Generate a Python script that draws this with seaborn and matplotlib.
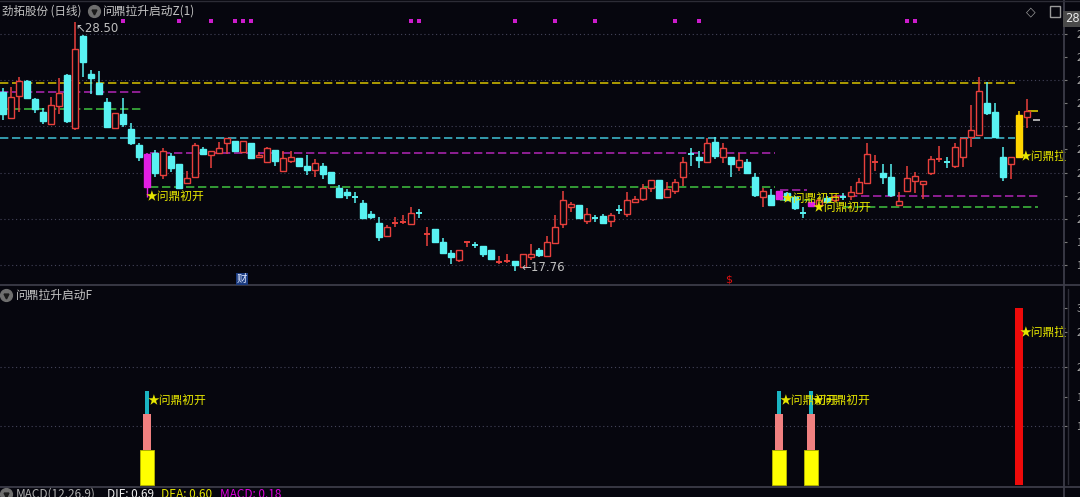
import matplotlib
matplotlib.use("Agg")
import matplotlib.pyplot as plt
import seaborn as sns
import numpy as np
import pandas as pd
from matplotlib.patches import Rectangle
from matplotlib.lines import Line2D

W, H = 1080, 497
BG = "#06060e"

# ---------------- data ----------------
opens = [25.48, 24.38, 25.32, 25.97, 25.19, 24.64, 24.12, 24.90, 26.23, 23.94,
         27.93, 26.26, 25.87, 25.07, 23.94, 24.52, 23.89, 23.20, 22.80, 22.84,
         21.90, 22.73, 22.36, 21.56, 21.82, 23.01, 22.76, 22.84, 23.29, 23.37,
         22.90, 23.27, 22.69, 22.47, 22.98, 22.07, 22.52, 22.62, 22.29, 22.11,
         22.29, 22.01, 21.35, 21.17, 20.95, 20.70, 20.19, 19.83, 19.26, 19.81,
         19.86, 19.77, 20.26, 19.33, 19.55, 18.99, 18.51, 18.22, 18.98, 18.88,
         18.82, 18.65, 18.13, 18.17, 18.19, 17.93, 18.33, 18.65, 18.40, 18.94,
         19.77, 20.50, 20.60, 19.90, 20.04, 20.12, 19.92, 20.39, 20.19, 20.74,
         20.84, 21.32, 21.68, 20.96, 21.20, 21.82, 22.80, 22.69, 22.47, 23.31,
         22.69, 22.66, 22.23, 22.47, 21.82, 20.96, 21.03, 21.20, 21.12, 20.94,
         20.26, 20.74, 20.60, 20.90, 20.81, 20.94, 20.99, 21.10, 21.56, 22.46,
         21.97, 21.80, 20.60, 21.22, 21.65, 21.49, 21.99, 22.57, 22.49, 22.29,
         22.69, 23.55, 23.63, 25.03, 24.64, 22.69, 22.37, 22.66, 24.39]
highs = [25.66, 25.72, 26.15, 26.01, 25.23, 24.81, 25.29, 26.11, 26.27, 28.50,
         27.96, 26.44, 26.40, 25.22, 24.57, 25.22, 24.15, 23.27, 22.86, 22.98,
         23.05, 22.84, 22.36, 22.07, 23.30, 23.12, 22.95, 23.34, 23.48, 23.37,
         23.37, 23.27, 22.90, 23.12, 22.98, 22.95, 22.95, 22.62, 22.76, 22.58,
         22.40, 22.01, 21.46, 21.28, 21.17, 20.81, 20.35, 20.09, 19.72, 20.09,
         20.16, 20.52, 20.41, 19.66, 19.55, 19.16, 18.65, 18.65, 19.00, 19.01,
         18.82, 18.65, 18.39, 18.46, 18.19, 18.46, 18.91, 18.72, 19.26, 20.16,
         21.20, 20.74, 20.60, 20.45, 20.16, 20.21, 20.26, 20.60, 21.17, 20.98,
         21.51, 21.68, 21.68, 21.61, 21.71, 22.69, 23.05, 22.95, 23.48, 23.53,
         23.29, 22.66, 22.84, 22.59, 21.97, 21.32, 21.28, 21.20, 21.17, 21.00,
         20.52, 20.74, 20.90, 20.98, 21.05, 21.13, 21.42, 21.75, 23.27, 22.76,
         22.37, 22.37, 21.17, 22.29, 22.04, 21.65, 22.72, 23.15, 22.69, 23.27,
         23.49, 24.93, 26.15, 25.94, 25.03, 23.10, 22.69, 24.68, 25.17]
lows = [24.28, 24.36, 24.64, 25.19, 24.58, 24.10, 24.10, 24.52, 24.15, 23.84,
        26.14, 25.40, 25.39, 23.99, 23.94, 23.99, 23.20, 22.50, 21.36, 21.82,
        21.71, 22.04, 21.35, 21.56, 21.82, 22.76, 22.21, 22.84, 22.79, 22.95,
        22.84, 22.58, 22.62, 22.40, 22.29, 22.07, 22.40, 22.23, 21.90, 21.82,
        21.71, 21.51, 20.93, 20.84, 20.70, 19.98, 19.98, 19.05, 19.26, 19.63,
        19.77, 19.77, 20.02, 18.82, 18.94, 18.51, 18.04, 18.14, 18.77, 18.72,
        18.33, 18.25, 18.04, 18.10, 17.76, 17.93, 18.22, 18.36, 18.40, 18.94,
        19.59, 20.31, 19.99, 19.77, 19.86, 19.83, 19.63, 20.21, 20.09, 20.67,
        20.77, 21.17, 20.91, 20.89, 21.07, 21.42, 22.29, 22.21, 22.40, 22.58,
        22.43, 21.82, 22.08, 21.97, 20.96, 20.50, 20.55, 20.86, 20.77, 20.40,
        20.02, 20.55, 20.50, 20.68, 20.74, 20.81, 20.81, 21.10, 21.51, 22.08,
        21.51, 20.93, 20.55, 21.17, 21.13, 20.84, 21.90, 22.47, 22.19, 22.19,
        22.26, 23.12, 23.63, 24.49, 23.53, 21.65, 21.71, 22.66, 23.92]
closes = [24.52, 25.29, 25.97, 25.22, 24.75, 24.23, 24.93, 25.46, 24.23, 27.34,
          26.78, 26.08, 25.39, 23.99, 24.57, 24.09, 23.27, 22.69, 21.36, 21.97,
          22.94, 22.19, 21.35, 21.75, 23.20, 22.79, 22.95, 23.08, 23.48, 22.95,
          23.37, 22.62, 22.76, 23.05, 22.50, 22.62, 22.66, 22.29, 22.11, 22.40,
          21.94, 21.54, 20.96, 21.03, 20.93, 20.02, 20.09, 19.20, 19.63, 19.83,
          19.88, 20.26, 20.23, 19.35, 18.99, 18.51, 18.36, 18.65, 19.00, 18.86,
          18.46, 18.25, 18.15, 18.19, 18.00, 18.46, 18.46, 18.43, 18.98, 19.66,
          20.81, 20.64, 20.02, 20.21, 20.02, 19.83, 20.16, 20.37, 20.81, 20.84,
          21.35, 21.68, 20.91, 21.29, 21.61, 22.45, 22.78, 22.54, 23.27, 22.72,
          23.05, 22.36, 22.54, 21.97, 21.03, 21.20, 20.60, 20.86, 20.81, 20.47,
          20.24, 20.55, 20.81, 20.73, 20.98, 20.92, 21.17, 21.61, 22.80, 22.47,
          21.80, 21.03, 20.78, 21.75, 21.87, 21.65, 22.58, 22.59, 22.47, 23.12,
          23.49, 23.84, 25.54, 24.57, 23.53, 21.82, 22.69, 24.49, 24.68]

signal_open = [18, 97, 101]          # 问鼎初开 bars
signal_pull = [127]                  # 问鼎拉 bar
dot_idx = [15, 22, 26, 29, 30, 31, 51, 52, 64, 69, 74, 84, 87, 113, 114]
dot_price = 28.56

# horizontal levels: (price, start index, end index, colour)
level_price = [25.89, 23.50, 25.50, 24.74, 22.86, 21.36, 21.25, 20.81, 20.97, 20.52]
level_start = [-0.4, -0.4, -0.4, -0.4, 18.4, 18.4, 97.1, 97.1, 104.2, 105.0]
level_end = [126.5, 126.5, 17.5, 17.5, 96.5, 96.5, 100.5, 101.0, 129.4, 129.4]
level_color = ["#c8b400", "#3cb4c8", "#a424a8", "#3cb43c", "#a424a8", "#3cb43c",
               "#a424a8", "#3cb43c", "#a424a8", "#3cb43c"]

sub_yellow = [0.59, 0.59, 0.59]
sub_pink = [1.20, 1.20, 1.20]
sub_cyan = [1.59, 1.59, 1.59]
sub_red = [3.0]

grid_main = [18, 20, 22, 24, 26, 28]
grid_sub = [1, 2]
main_ticks = list(range(18, 29))
sub_ticks = [1, 1.5, 2, 2.6, 3]

# ---------------- style ----------------
sns.set_theme(style="dark", rc={"axes.facecolor": BG, "figure.facecolor": BG})
plt.rcParams["font.family"] = ["Noto Sans CJK SC", "DejaVu Sans"]
plt.rcParams["axes.unicode_minus"] = False

fig = plt.figure(figsize=(W / 100, H / 100), dpi=100)
fig.patch.set_facecolor(BG)


def fx(x):
    return x / W


def fy(y):
    return 1 - y / H


ax = fig.add_axes([0, fy(284), 1063 / W, 284 / H])
ax2 = fig.add_axes([0, fy(486), 1063 / W, 200 / H])
for a in (ax, ax2):
    a.set_facecolor(BG)
    a.grid(False)
    for s in a.spines.values():
        s.set_visible(False)
    a.set_xlim(-0.375, 132.5)
    a.set_xticks([])
    a.yaxis.tick_right()
    a.tick_params(axis="y", colors="#7a7a7a", labelcolor="#a8a8a8", length=3,
                  width=0.8, pad=6.5, labelsize=8, right=True, left=False)

ax.set_ylim(17.177, 29.472)
ax2.set_ylim(-0.017, 3.373)
ax.set_yticks(main_ticks)
ax.set_yticklabels([f"{v:.2f}" for v in main_ticks])
ax2.set_yticks(sub_ticks)
ax2.set_yticklabels([f"{v:.2f}" for v in sub_ticks])

for g in grid_main:
    ax.axhline(g, color="#44445a", ls=(0, (1, 2.5)), lw=0.8, zorder=0)
for g in grid_sub:
    ax2.axhline(g, color="#44445a", ls=(0, (1, 2.5)), lw=0.8, zorder=0)

# ---------------- levels ----------------
for p, s, e, c in zip(level_price, level_start, level_end, level_color):
    ax.hlines(p, s, e, colors=c, linestyles=(0, (5, 2.2)), lw=1.2, zorder=1)

# ---------------- candles ----------------
RED = "#e8403c"
CYAN = "#58f2f2"
MAG = "#e21ee2"
YEL = "#ffd500"
special = {i: MAG for i in signal_open}
special.update({i: YEL for i in signal_pull})
bw = 0.8
df = pd.DataFrame({"o": opens, "h": highs, "l": lows, "c": closes})
for i, r in df.iterrows():
    o, h, l, c = r.o, r.h, r.l, r.c
    if i in special:
        col, filled = special[i], True
    elif c >= o:
        col, filled = RED, False
    else:
        col, filled = CYAN, True
    ax.vlines(i, l, h, colors=col, lw=1.1, zorder=2)
    bot, top = min(o, c), max(o, c)
    if top - bot < 0.05:
        ax.hlines((o + c) / 2, i - bw / 2, i + bw / 2, colors=col, lw=1.4, zorder=3)
    else:
        ax.add_patch(Rectangle((i - bw / 2, bot), bw, top - bot,
                               facecolor=col if filled else BG, edgecolor=col,
                               lw=1.0, zorder=3))

# small stubs at the last bar
ax.hlines(24.68, 128.1, 129.4, colors="#d8c800", lw=1.2, zorder=2)
ax.hlines(24.26, 128.75, 129.6, colors="#c8c8c8", lw=1.2, zorder=2)
ax.vlines(18, 21.36, 20.95, colors=MAG, lw=1.0, zorder=2)

# dots at top
sns.scatterplot(x=dot_idx, y=[dot_price] * len(dot_idx), ax=ax, color="#cc1ccc",
                marker="s", s=9, linewidth=0, legend=False, zorder=4)

# text annotations main
LBL = "#e6e600"
ax.text(17.85, 20.92, "★问鼎初开", color=LBL, fontsize=8.5, va="center", ha="left", zorder=6)
ax.text(97.35, 20.86, "★问鼎初开", color=LBL, fontsize=8.5, va="center", ha="left", zorder=6)
ax.text(101.2, 20.47, "★问鼎初开", color=LBL, fontsize=8.5, va="center", ha="left", zorder=6)
ax.text(127.1, 22.72, "★问鼎拉", color=LBL, fontsize=8.5, va="center", ha="left", zorder=6)
ax.text(9.0, 28.22, "↖28.50", color="#c0c0c0", fontsize=8.5, va="center", ha="left",
        family=["DejaVu Sans"])
ax.text(64.75, 17.87, "←17.76", color="#c0c0c0", fontsize=8.5, va="center", ha="left",
        family=["DejaVu Sans"])

# ---------------- lower panel ----------------
for k, i in enumerate(signal_open):
    ax2.bar(i, sub_yellow[k], width=1.65, bottom=0, color="#ffff00", edgecolor="#b8b800",
            lw=0.6, zorder=3)
    ax2.bar(i, sub_pink[k] - sub_yellow[k], width=1.12, bottom=sub_yellow[k],
            color="#f08080", lw=0, zorder=3)
    ax2.bar(i, sub_cyan[k] - sub_pink[k], width=0.58, bottom=sub_pink[k],
            color="#1ab4c2", lw=0, zorder=3)
    ax2.text(i + 0.1, 1.41, "★问鼎初开", color=LBL, fontsize=8.5, va="center",
             ha="left", zorder=6)
for k, i in enumerate(signal_pull):
    ax2.bar(i, sub_red[k], width=1.0, bottom=0, color="#ee0a0a", lw=0, zorder=3)
    ax2.text(i + 0.1, 2.59, "★问鼎拉", color=LBL, fontsize=8.5, va="center",
             ha="left", zorder=6)

# ---------------- frame lines ----------------
SEP = "#3c3c48"
fig.add_artist(Line2D([0, 1], [fy(285), fy(285)], color=SEP, lw=1.3, transform=fig.transFigure))
fig.add_artist(Line2D([0, 1], [fy(486.5), fy(486.5)], color=SEP, lw=1.3, transform=fig.transFigure))
fig.add_artist(Line2D([fx(1063.5), fx(1063.5)], [0, 1], color=SEP, lw=1.3, transform=fig.transFigure))
fig.add_artist(Line2D([fx(1067.5), fx(1067.5)], [fy(484), fy(289)], color="#2c2c36", lw=1.0,
                      transform=fig.transFigure))
fig.add_artist(Line2D([0, 1], [fy(1), fy(1)], color="#2c2c36", lw=1.0, transform=fig.transFigure))

# ---------------- header texts ----------------
HDR = "#c4c4c4"


def icon(x, y):
    fig.add_artist(Line2D([fx(x)], [fy(y)], marker="o", markersize=8.5, color="#6e6e6e",
                          lw=0, transform=fig.transFigure))
    fig.add_artist(Line2D([fx(x)], [fy(y + 0.5)], marker="v", markersize=3.5, color="#1a1a1a",
                          lw=0, transform=fig.transFigure))


fig.text(fx(2), fy(11), "劲拓股份 (日线)", color=HDR, fontsize=8.3, va="center", ha="left")
icon(94, 11)
fig.text(fx(103), fy(11), "问鼎拉升启动Z(1)", color=HDR, fontsize=8.5, va="center", ha="left")
icon(6, 295)
fig.text(fx(16), fy(295), "问鼎拉升启动F", color=HDR, fontsize=8.5, va="center", ha="left")
icon(6, 494)
fig.text(fx(16), fy(494), "MACD(12,26,9)", color="#b0b0b0", fontsize=8.5, va="center", ha="left")
fig.text(fx(107), fy(494), "DIF: 0.69", color="#f0f0f0", fontsize=8.5, va="center", ha="left")
fig.text(fx(161), fy(494), "DEA: 0.60", color="#e6e600", fontsize=8.5, va="center", ha="left")
fig.text(fx(220), fy(494), "MACD: 0.18", color="#e000e0", fontsize=8.5, va="center", ha="left")

fig.text(fx(1065), fy(19), "28.66", color="#e8e8e8", fontsize=8.3, va="center", ha="left",
         family=["DejaVu Sans"],
         bbox=dict(facecolor="#4a4a4a", edgecolor="none", pad=1.2))
fig.text(fx(1031), fy(12), "◇", color="#9a9a9a", fontsize=9, va="center", ha="center",
         family=["DejaVu Sans"])
fig.add_artist(Rectangle((fx(1050), fy(17)), 10 / W, 11 / H, facecolor="none",
                         edgecolor="#9a9a9a", lw=1.0, transform=fig.transFigure))

fig.text(fx(242), fy(279), "财", color="#e0e8ff", fontsize=7.5, va="center", ha="center",
         bbox=dict(facecolor="#1c3c80", edgecolor="none", pad=0.6))
fig.text(fx(729), fy(280), "$", color="#e01010", fontsize=8, va="center", ha="center",
         family=["DejaVu Sans"])

fig.savefig("out.png", dpi=100, facecolor=BG)
